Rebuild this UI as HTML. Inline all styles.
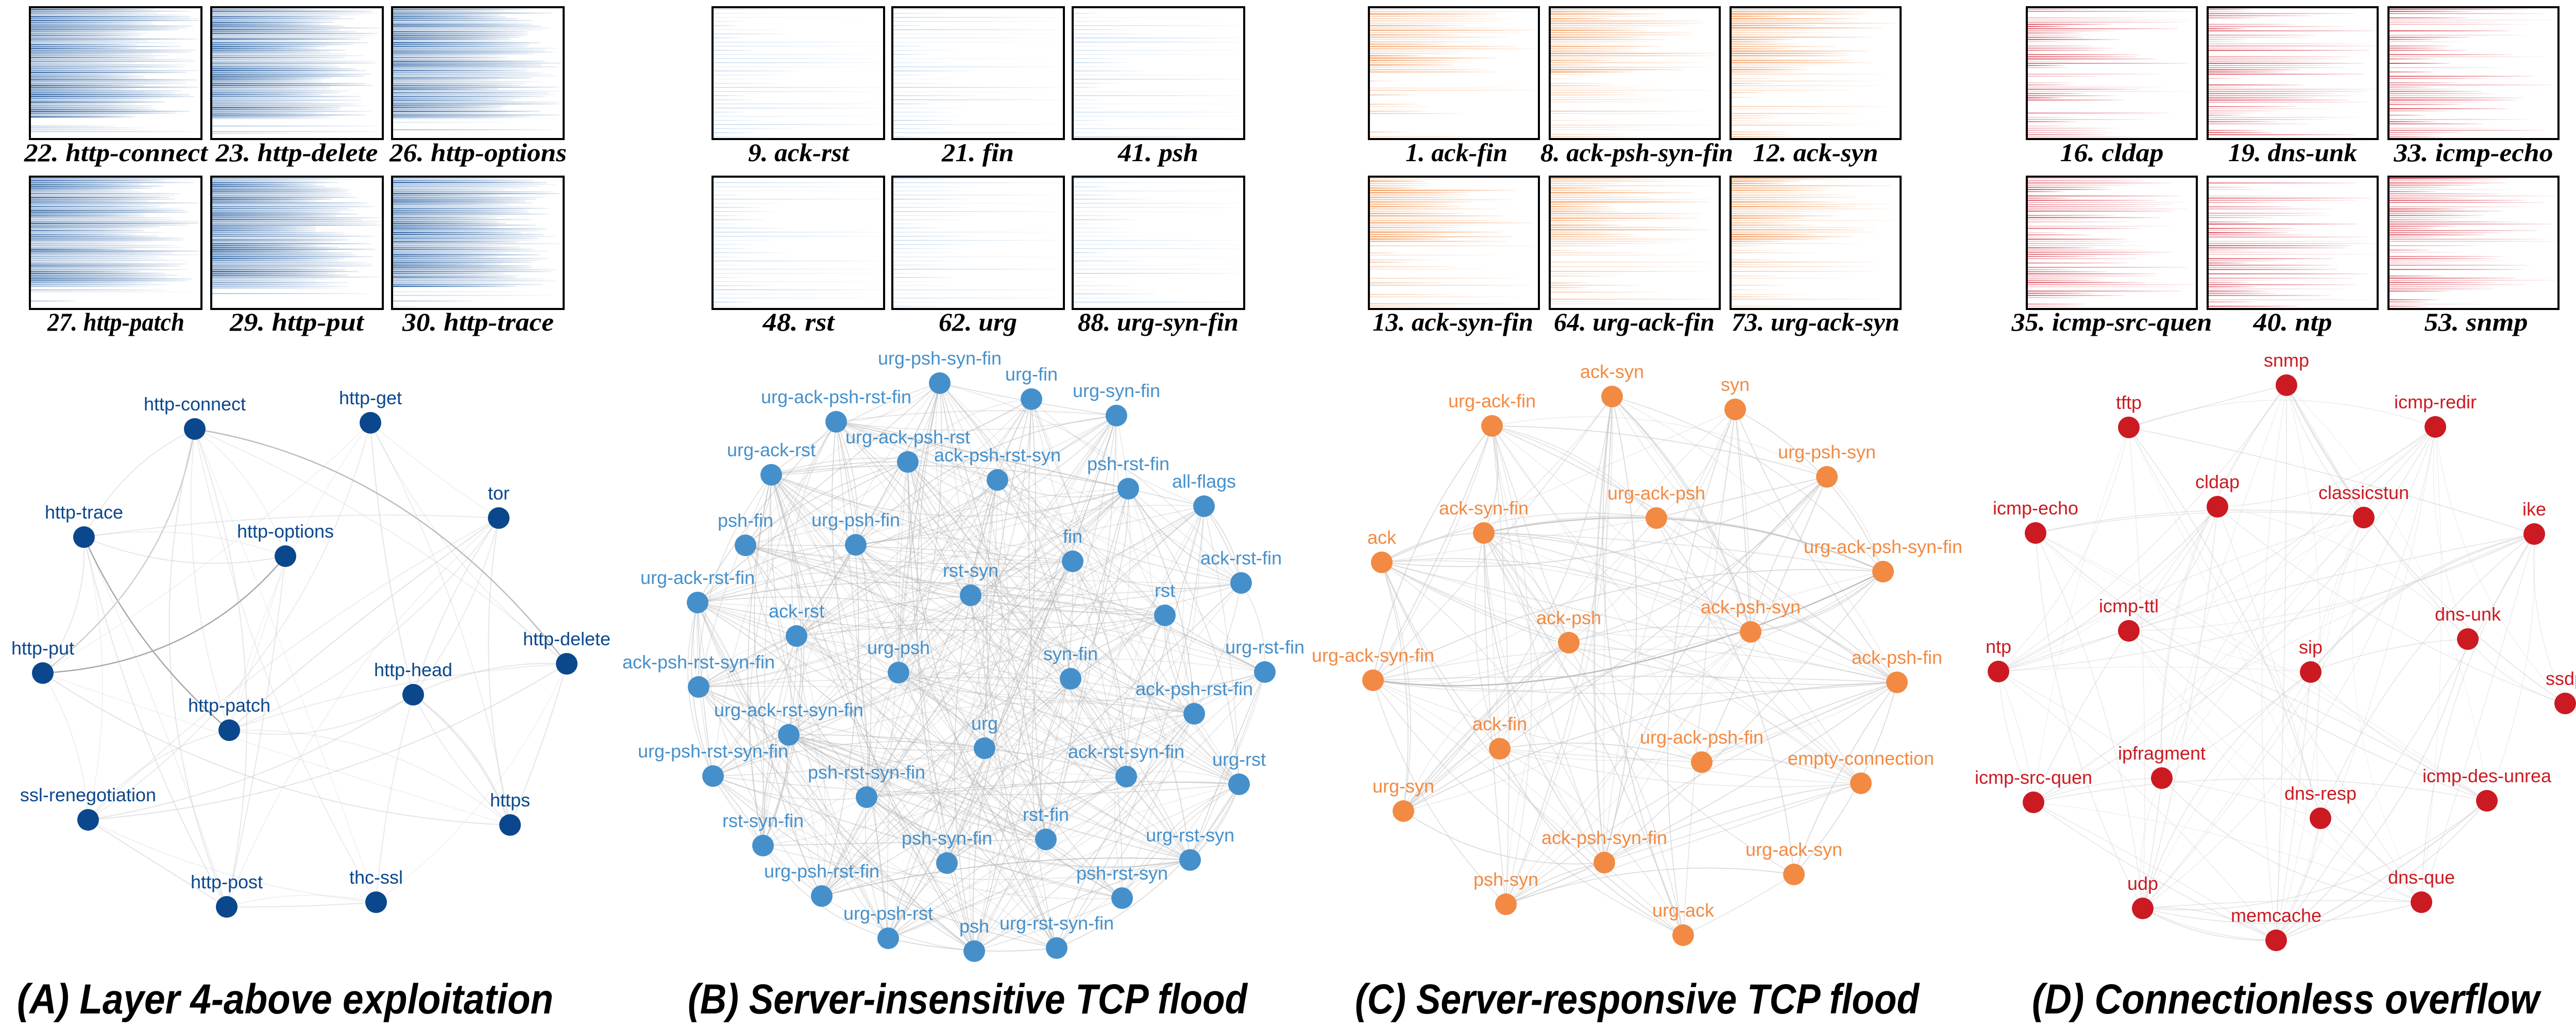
<!DOCTYPE html>
<html><head><meta charset="utf-8">
<style>
html,body{margin:0;padding:0;background:#fff;}
svg{display:block;}
.gl{font-family:"Liberation Sans",sans-serif;font-size:36px;text-anchor:middle;}
.tl{font-family:"Liberation Serif",serif;font-weight:bold;font-style:italic;font-size:50px;text-anchor:middle;fill:#000;}
.tt{font-family:"Liberation Sans",sans-serif;font-weight:bold;font-style:italic;font-size:82px;fill:#000;}
</style></head>
<body>
<svg id="s" xmlns="http://www.w3.org/2000/svg" width="5024" height="2004" viewBox="0 0 5024 2004">
<rect width="5024" height="2004" fill="#fff"/>
<defs id="defs"></defs>
<g id="thumbs"></g>
<g id="edges"></g>

<g>
<text class="tl" x="225" y="313" textLength="356" lengthAdjust="spacingAndGlyphs">22. http-connect</text>
<text class="tl" x="576" y="313" textLength="315" lengthAdjust="spacingAndGlyphs">23. http-delete</text>
<text class="tl" x="928" y="313" textLength="344" lengthAdjust="spacingAndGlyphs">26. http-options</text>
<text class="tl" x="225" y="642" textLength="266" lengthAdjust="spacingAndGlyphs">27. http-patch</text>
<text class="tl" x="576" y="642" textLength="260" lengthAdjust="spacingAndGlyphs">29. http-put</text>
<text class="tl" x="928" y="642" textLength="294" lengthAdjust="spacingAndGlyphs">30. http-trace</text>

<text class="tl" x="1550" y="313" textLength="196" lengthAdjust="spacingAndGlyphs">9. ack-rst</text>
<text class="tl" x="1898" y="313" textLength="140" lengthAdjust="spacingAndGlyphs">21. fin</text>
<text class="tl" x="2248" y="313" textLength="156" lengthAdjust="spacingAndGlyphs">41. psh</text>
<text class="tl" x="1550" y="642" textLength="139" lengthAdjust="spacingAndGlyphs">48. rst</text>
<text class="tl" x="1898" y="642" textLength="152" lengthAdjust="spacingAndGlyphs">62. urg</text>
<text class="tl" x="2248" y="642" textLength="312" lengthAdjust="spacingAndGlyphs">88. urg-syn-fin</text>

<text class="tl" x="2827" y="313" textLength="198" lengthAdjust="spacingAndGlyphs">1. ack-fin</text>
<text class="tl" x="3177" y="313" textLength="374" lengthAdjust="spacingAndGlyphs">8. ack-psh-syn-fin</text>
<text class="tl" x="3524" y="313" textLength="243" lengthAdjust="spacingAndGlyphs">12. ack-syn</text>
<text class="tl" x="2820" y="642" textLength="312" lengthAdjust="spacingAndGlyphs">13. ack-syn-fin</text>
<text class="tl" x="3172" y="642" textLength="312" lengthAdjust="spacingAndGlyphs">64. urg-ack-fin</text>
<text class="tl" x="3524" y="642" textLength="326" lengthAdjust="spacingAndGlyphs">73. urg-ack-syn</text>

<text class="tl" x="4099" y="313" textLength="201" lengthAdjust="spacingAndGlyphs">16. cldap</text>
<text class="tl" x="4450" y="313" textLength="250" lengthAdjust="spacingAndGlyphs">19. dns-unk</text>
<text class="tl" x="4801" y="313" textLength="309" lengthAdjust="spacingAndGlyphs">33. icmp-echo</text>
<text class="tl" x="4099" y="642" textLength="389" lengthAdjust="spacingAndGlyphs">35. icmp-src-quen</text>
<text class="tl" x="4450" y="642" textLength="153" lengthAdjust="spacingAndGlyphs">40. ntp</text>
<text class="tl" x="4806" y="642" textLength="201" lengthAdjust="spacingAndGlyphs">53. snmp</text>
</g>

<g id="gA" fill="#0b478c">
<circle cx="378" cy="833" r="21"/><circle cx="719" cy="821" r="21"/><circle cx="968" cy="1006" r="21"/>
<circle cx="163" cy="1043" r="21"/><circle cx="554" cy="1080" r="21"/><circle cx="83" cy="1307" r="21"/>
<circle cx="1100" cy="1289" r="21"/><circle cx="802" cy="1349" r="21"/><circle cx="445" cy="1418" r="21"/>
<circle cx="171" cy="1592" r="21"/><circle cx="990" cy="1602" r="21"/><circle cx="440" cy="1761" r="21"/>
<circle cx="730" cy="1752" r="21"/>
</g>
<g class="gl" fill="#0b478c">
<text x="378" y="797">http-connect</text><text x="719" y="785">http-get</text><text x="968" y="970">tor</text>
<text x="163" y="1007">http-trace</text><text x="554" y="1044">http-options</text><text x="83" y="1271">http-put</text>
<text x="1100" y="1253">http-delete</text><text x="802" y="1313">http-head</text><text x="445" y="1382">http-patch</text>
<text x="171" y="1556">ssl-renegotiation</text><text x="990" y="1566">https</text><text x="440" y="1725">http-post</text>
<text x="730" y="1716">thc-ssl</text>
</g>

<g id="gB" fill="#4590cb">
<circle cx="1824" cy="744" r="21"/><circle cx="2002" cy="775" r="21"/><circle cx="2167" cy="807" r="21"/>
<circle cx="1623" cy="819" r="21"/><circle cx="1762" cy="897" r="21"/><circle cx="1936" cy="932" r="21"/>
<circle cx="1497" cy="922" r="21"/><circle cx="2190" cy="949" r="21"/><circle cx="2337" cy="983" r="21"/>
<circle cx="1447" cy="1059" r="21"/><circle cx="1661" cy="1058" r="21"/><circle cx="2082" cy="1090" r="21"/>
<circle cx="2409" cy="1132" r="21"/><circle cx="1884" cy="1156" r="21"/><circle cx="1354" cy="1170" r="21"/>
<circle cx="2261" cy="1195" r="21"/><circle cx="1546" cy="1235" r="21"/><circle cx="2455" cy="1305" r="21"/>
<circle cx="1356" cy="1334" r="21"/><circle cx="1744" cy="1306" r="21"/><circle cx="2078" cy="1318" r="21"/>
<circle cx="2318" cy="1386" r="21"/><circle cx="1531" cy="1427" r="21"/><circle cx="1911" cy="1453" r="21"/>
<circle cx="2186" cy="1508" r="21"/><circle cx="1384" cy="1507" r="21"/><circle cx="2405" cy="1523" r="21"/>
<circle cx="1682" cy="1548" r="21"/><circle cx="1481" cy="1642" r="21"/><circle cx="2030" cy="1630" r="21"/>
<circle cx="2310" cy="1670" r="21"/><circle cx="1838" cy="1676" r="21"/><circle cx="1595" cy="1740" r="21"/>
<circle cx="2178" cy="1744" r="21"/><circle cx="1724" cy="1822" r="21"/><circle cx="1891" cy="1847" r="21"/>
<circle cx="2051" cy="1841" r="21"/>
</g>
<g class="gl" fill="#4590cb">
<text x="1824" y="708">urg-psh-syn-fin</text><text x="2002" y="739">urg-fin</text><text x="2167" y="771">urg-syn-fin</text>
<text x="1623" y="783">urg-ack-psh-rst-fin</text><text x="1762" y="861">urg-ack-psh-rst</text><text x="1936" y="896">ack-psh-rst-syn</text>
<text x="1497" y="886">urg-ack-rst</text><text x="2190" y="913">psh-rst-fin</text><text x="2337" y="947">all-flags</text>
<text x="1447" y="1023">psh-fin</text><text x="1661" y="1022">urg-psh-fin</text><text x="2082" y="1054">fin</text>
<text x="2409" y="1096">ack-rst-fin</text><text x="1884" y="1120">rst-syn</text><text x="1354" y="1134">urg-ack-rst-fin</text>
<text x="2261" y="1159">rst</text><text x="1546" y="1199">ack-rst</text><text x="2455" y="1269">urg-rst-fin</text>
<text x="1356" y="1298">ack-psh-rst-syn-fin</text><text x="1744" y="1270">urg-psh</text><text x="2078" y="1282">syn-fin</text>
<text x="2318" y="1350">ack-psh-rst-fin</text><text x="1531" y="1391">urg-ack-rst-syn-fin</text><text x="1911" y="1417">urg</text>
<text x="2186" y="1472">ack-rst-syn-fin</text><text x="1384" y="1471">urg-psh-rst-syn-fin</text><text x="2405" y="1487">urg-rst</text>
<text x="1682" y="1512">psh-rst-syn-fin</text><text x="1481" y="1606">rst-syn-fin</text><text x="2030" y="1594">rst-fin</text>
<text x="2310" y="1634">urg-rst-syn</text><text x="1838" y="1640">psh-syn-fin</text><text x="1595" y="1704">urg-psh-rst-fin</text>
<text x="2178" y="1708">psh-rst-syn</text><text x="1724" y="1786">urg-psh-rst</text><text x="1891" y="1811">psh</text>
<text x="2051" y="1805">urg-rst-syn-fin</text>
</g>

<g id="gC" fill="#f28a43">
<circle cx="3129" cy="770" r="21"/><circle cx="3368" cy="795" r="21"/><circle cx="2896" cy="827" r="21"/>
<circle cx="3546" cy="926" r="21"/><circle cx="3215" cy="1006" r="21"/><circle cx="2880" cy="1035" r="21"/>
<circle cx="2682" cy="1092" r="21"/><circle cx="3655" cy="1110" r="21"/><circle cx="3398" cy="1227" r="21"/>
<circle cx="3045" cy="1248" r="21"/><circle cx="3682" cy="1325" r="21"/><circle cx="2665" cy="1321" r="21"/>
<circle cx="2911" cy="1454" r="21"/><circle cx="3303" cy="1480" r="21"/><circle cx="3612" cy="1521" r="21"/>
<circle cx="2724" cy="1575" r="21"/><circle cx="3114" cy="1675" r="21"/><circle cx="3482" cy="1698" r="21"/>
<circle cx="2923" cy="1756" r="21"/><circle cx="3267" cy="1816" r="21"/>
</g>
<g class="gl" fill="#f28a43">
<text x="3129" y="734">ack-syn</text><text x="3368" y="759">syn</text><text x="2896" y="791">urg-ack-fin</text>
<text x="3546" y="890">urg-psh-syn</text><text x="3215" y="970">urg-ack-psh</text><text x="2880" y="999">ack-syn-fin</text>
<text x="2682" y="1056">ack</text><text x="3655" y="1074">urg-ack-psh-syn-fin</text><text x="3398" y="1191">ack-psh-syn</text>
<text x="3045" y="1212">ack-psh</text><text x="3682" y="1289">ack-psh-fin</text><text x="2665" y="1285">urg-ack-syn-fin</text>
<text x="2911" y="1418">ack-fin</text><text x="3303" y="1444">urg-ack-psh-fin</text><text x="3612" y="1485">empty-connection</text>
<text x="2724" y="1539">urg-syn</text><text x="3114" y="1639">ack-psh-syn-fin</text><text x="3482" y="1662">urg-ack-syn</text>
<text x="2923" y="1720">psh-syn</text><text x="3267" y="1780">urg-ack</text>
</g>

<g id="gD" fill="#cb1a22">
<circle cx="4438" cy="748" r="21"/><circle cx="4132" cy="830" r="21"/><circle cx="4727" cy="829" r="21"/>
<circle cx="4304" cy="984" r="21"/><circle cx="4588" cy="1005" r="21"/><circle cx="3951" cy="1035" r="21"/>
<circle cx="4919" cy="1037" r="21"/><circle cx="4132" cy="1225" r="21"/><circle cx="4790" cy="1241" r="21"/>
<circle cx="3879" cy="1304" r="21"/><circle cx="4485" cy="1305" r="21"/><circle cx="4979" cy="1366" r="21"/>
<circle cx="4196" cy="1511" r="21"/><circle cx="3947" cy="1558" r="21"/><circle cx="4827" cy="1555" r="21"/>
<circle cx="4504" cy="1589" r="21"/><circle cx="4159" cy="1764" r="21"/><circle cx="4700" cy="1752" r="21"/>
<circle cx="4418" cy="1826" r="21"/>
</g>
<g class="gl" fill="#cb1a22">
<text x="4438" y="712">snmp</text><text x="4132" y="794">tftp</text><text x="4727" y="793">icmp-redir</text>
<text x="4304" y="948">cldap</text><text x="4588" y="969">classicstun</text><text x="3951" y="999">icmp-echo</text>
<text x="4919" y="1001">ike</text><text x="4132" y="1189">icmp-ttl</text><text x="4790" y="1205">dns-unk</text>
<text x="3879" y="1268">ntp</text><text x="4485" y="1269">sip</text><text x="4979" y="1330">ssdp</text>
<text x="4196" y="1475">ipfragment</text><text x="3947" y="1522">icmp-src-quen</text><text x="4827" y="1519">icmp-des-unrea</text>
<text x="4504" y="1553">dns-resp</text><text x="4159" y="1728">udp</text><text x="4700" y="1716">dns-que</text>
<text x="4418" y="1790">memcache</text>
</g>

<text class="tt" x="33" y="1968" textLength="1041" lengthAdjust="spacingAndGlyphs">(A) Layer 4-above exploitation</text>
<text class="tt" x="1335" y="1968" textLength="1086" lengthAdjust="spacingAndGlyphs">(B) Server-insensitive TCP flood</text>
<text class="tt" x="2630" y="1968" textLength="1095" lengthAdjust="spacingAndGlyphs">(C) Server-responsive TCP flood</text>
<text class="tt" x="3944" y="1968" textLength="985" lengthAdjust="spacingAndGlyphs">(D) Connectionless overflow</text>
</svg>
<script>
(function(){
var NS="http://www.w3.org/2000/svg";
var seed=12345;
function rnd(){seed|=0;seed=seed+0x6D2B79F5|0;var t=Math.imul(seed^seed>>>15,1|seed);t=t+Math.imul(t^t>>>7,61|t)^t;return((t^t>>>14)>>>0)/4294967296;}
function el(n,a,p){var e=document.createElementNS(NS,n);for(var k in a)e.setAttribute(k,a[k]);p.appendChild(e);return e;}
var defs=document.getElementById('defs');
var thumbs=document.getElementById('thumbs');
var edges=document.getElementById('edges');
var cols={A:'#1f5aa0',B:'#4a90d0',C:'#f07f2e',D:'#d0182a'};
for(var k in cols){
 var g=el('linearGradient',{id:'g'+k,x1:'0',y1:'0',x2:'1',y2:'0'},defs);
 el('stop',{offset:'0','stop-color':cols[k],'stop-opacity':'1'},g);
 el('stop',{offset:'0.6','stop-color':cols[k],'stop-opacity':'0.55'},g);
 el('stop',{offset:'1','stop-color':cols[k],'stop-opacity':'0.1'},g);
}
var boxes={A:[58,410,761],B:[1383,1732,2082],C:[2657,3008,3359],D:[3934,4285,4636]};
var wd={A:333,B:333,C:330,D:330};
var rows=[[14,256],[343,257]];
for(var p in boxes){
 boxes[p].forEach(function(x){
  rows.forEach(function(r){
   var y0=r[0],h=r[1],w=wd[p];
   var grp=el('g',{},thumbs);
   var step=p=='A'?3.6:(p=='B'?8:(p=='C'?4.5:4.2));
   for(var y=y0+3;y<y0+h-3;y+=step){
    var f=(y-y0)/h, o, len, hh=1.8;
    if(p=='A'){ if(f>0.83){ if(rnd()<0.35){o=0.15+0.3*rnd();len=w*(0.2+0.8*rnd());} else continue;} else {o=0.35+0.65*rnd();len=w*(0.6+0.4*rnd());hh=2.4;} }
    else if(p=='B'){ o=0.1+0.35*rnd(); len=rnd()<0.4?w:w*(0.15+0.35*rnd()); hh=1.4; }
    else if(p=='C'){ if(f<0.5){o=0.2+0.6*rnd();len=w*(0.3+0.7*rnd());hh=2.4;} else {if(rnd()<0.45)continue;o=0.15+0.35*rnd();len=w*(0.15+0.85*rnd());} }
    else { o=0.2+0.7*rnd(); len=w*(0.2+0.8*rnd()); hh=1.8; if(rnd()<0.25)continue; }
    el('rect',{x:x+2,y:y.toFixed(1),width:Math.min(len,w-4).toFixed(1),height:hh,fill:'url(#g'+p+')',opacity:o.toFixed(2)},grp);
   }
   el('rect',{x:x,y:y0,width:w,height:h,fill:'none',stroke:'#000','stroke-width':'4'},grp);
  });
 });
}
var spec={A:{n:55,c:'#cfcfcf',o:0.45,w:2},B:{n:420,c:'#b5b5b5',o:0.45,w:1.6},C:{n:150,c:'#c4c4c4',o:0.5,w:1.8},D:{n:120,c:'#d2d2d2',o:0.5,w:1.6}};
function curve(a,b,col,op,sw){
 var mx=(a[0]+b[0])/2,my=(a[1]+b[1])/2,dx=b[0]-a[0],dy=b[1]-a[1];
 var s=(rnd()-0.5)*0.4;
 var cx=mx-dy*s,cy=my+dx*s;
 el('path',{d:'M'+a[0]+' '+a[1]+' Q'+cx.toFixed(1)+' '+cy.toFixed(1)+' '+b[0]+' '+b[1],fill:'none',stroke:col,'stroke-opacity':op,'stroke-width':sw},edges);
}
for(var p in spec){
 var cs=document.querySelectorAll('#g'+p+' circle');
 var pts=[];for(var i=0;i<cs.length;i++)pts.push([+cs[i].getAttribute('cx'),+cs[i].getAttribute('cy')]);
 var sp=spec[p];
 for(var i=0;i<sp.n;i++){
  var a=Math.floor(rnd()*pts.length),b=Math.floor(rnd()*pts.length);
  if(a==b)continue;
  curve(pts[a],pts[b],sp.c,(sp.o*(0.5+rnd()*0.8)).toFixed(2),sp.w);
 }
}
el('path',{d:'M378 833 Q800 900 1100 1289',fill:'none',stroke:'#bcbcbc','stroke-width':2.5},edges);
el('path',{d:'M163 1043 Q260 1260 445 1418',fill:'none',stroke:'#a8a8a8','stroke-width':2.5},edges);
el('path',{d:'M554 1080 Q380 1290 83 1307',fill:'none',stroke:'#a8a8a8','stroke-width':2.5},edges);
el('path',{d:'M378 833 Q330 1120 83 1307',fill:'none',stroke:'#d0d0d0','stroke-width':2.5},edges);
el('path',{d:'M2665 1321 Q3100 1380 3655 1110',fill:'none',stroke:'#bdbdbd','stroke-width':2.5},edges);
el('path',{d:'M2880 1035 Q3300 950 3655 1110',fill:'none',stroke:'#c8c8c8','stroke-width':2.5},edges);
})();
</script>
</body></html>
